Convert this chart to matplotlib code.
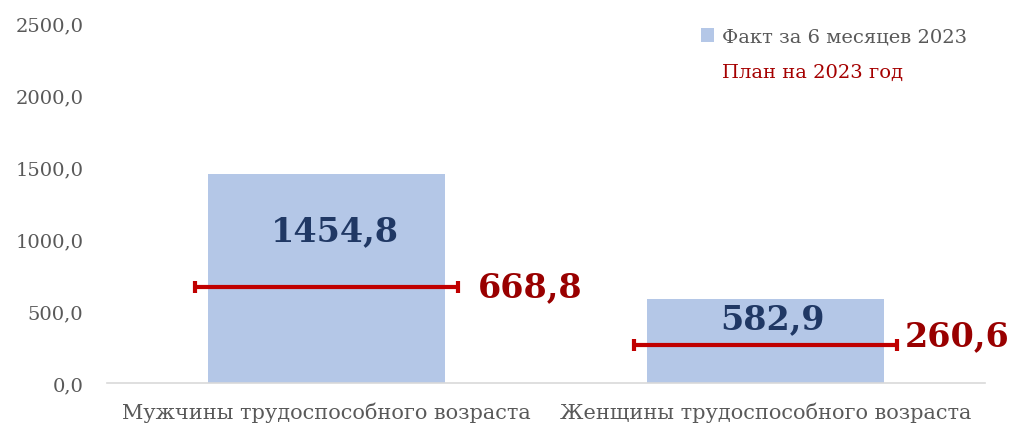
import matplotlib.pyplot as plt
from matplotlib.patches import Patch
from matplotlib.lines import Line2D

categories = ['Мужчины трудоспособного возраста', 'Женщины трудоспособного возраста']
fact = [1454.8, 582.9]
plan = [668.8, 260.6]
yticks = [0, 500, 1000, 1500, 2000, 2500]

plt.rcParams['font.family'] = ['DejaVu Serif']

fig = plt.figure(figsize=(10.14, 4.27), dpi=100)
ax = fig.add_axes([0.1055, 0.1007, 0.8655, 0.8431])

x = list(range(len(categories)))
ax.bar(x, fact, width=0.54, color='#b4c7e7', zorder=2)
ax.errorbar(x, plan, xerr=0.3, fmt='none', ecolor='#c00000',
            elinewidth=3, capsize=4.5, capthick=3, zorder=3)

def fmt(v):
    return f'{v:.1f}'.replace('.', ',')

# value labels (offsets in points)
fact_off = [(6, -41), (5, -14)]
plan_off = [(14, 0), (6, 7)]
for i in x:
    ax.annotate(fmt(fact[i]), (i, fact[i]), xytext=fact_off[i], textcoords='offset points',
                ha='center', va='center', fontsize=24, fontweight='bold', color='#203864')
    ax.annotate(fmt(plan[i]), (i + 0.3, plan[i]), xytext=plan_off[i], textcoords='offset points',
                ha='left', va='center', fontsize=24, fontweight='bold', color='#990000')

ax.set_xlim(-0.5, 1.5)
ax.set_ylim(0, 2500)
ax.set_yticks(yticks)
ax.set_yticklabels([fmt(v) for v in yticks])
ax.set_xticks(x)
ax.set_xticklabels(categories)
ax.tick_params(axis='both', length=0, colors='#595959')
ax.tick_params(axis='y', pad=17, labelsize=14)
ax.tick_params(axis='x', pad=13, labelsize=15)
for s in ['top', 'right', 'left']:
    ax.spines[s].set_visible(False)
ax.spines['bottom'].set_color('#d9d9d9')
ax.spines['bottom'].set_linewidth(1.2)

handles = [Patch(facecolor='#b4c7e7', edgecolor='none'),
           Line2D([], [], linestyle='none')]
leg = ax.legend(handles, ['Факт за 6 месяцев 2023', 'План на 2023 год'],
                loc='upper right', bbox_to_anchor=(1.0, 1.035), frameon=False,
                fontsize=14, handlelength=0.7, handleheight=0.7, handletextpad=0.4,
                labelspacing=0.9, labelcolor=['#595959', '#a50000'])

fig.savefig('out.png', dpi=100)
